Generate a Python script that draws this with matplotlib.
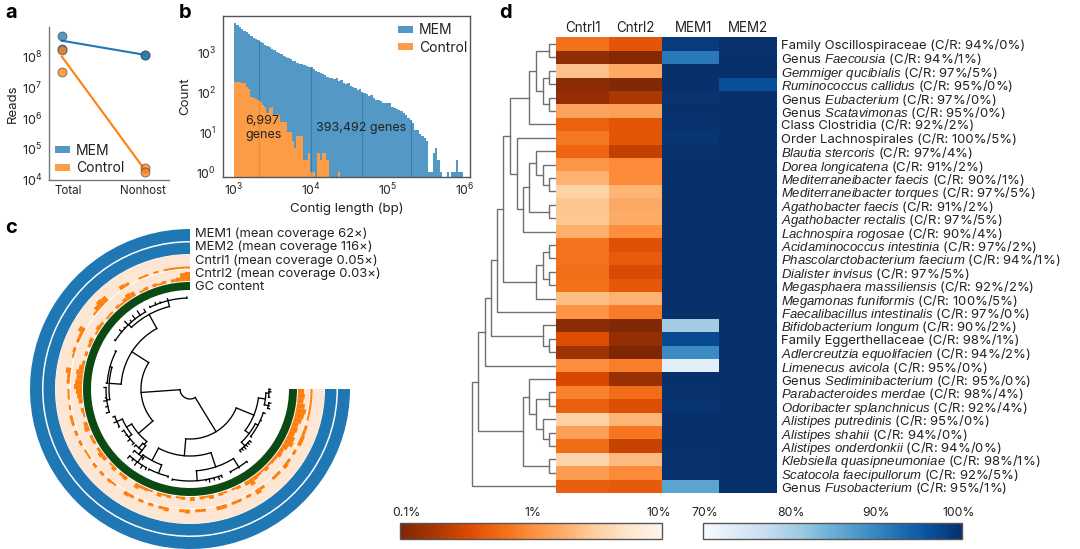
import numpy as np
import matplotlib
matplotlib.use("Agg")
import matplotlib.pyplot as plt
from matplotlib.colors import LogNorm, Normalize
from matplotlib.cm import ScalarMappable
from matplotlib.patches import Patch
from matplotlib.transforms import ScaledTranslation

plt.rcParams['font.family'] = ['Inter', 'DejaVu Sans']
plt.rcParams['mathtext.fontset'] = 'custom'
plt.rcParams['mathtext.rm'] = 'Inter'
plt.rcParams['mathtext.it'] = 'Liberation Sans:italic'
plt.rcParams['mathtext.bf'] = 'Inter:bold'
plt.rcParams['text.color'] = '#222222'

W, H = 1080, 549
BLUE, ORANGE = '#1f77b4', '#ff7f0e'
SOFT_BLUE, SOFT_ORANGE = '#5498c6', '#fd9c46'
TXT = '#222222'

# ---------- panel a ----------
a_groups = ['Total', 'Nonhost']
a_mem = [[5.0e8, 1.8e8], [1.2e8, 1.15e8]]
a_ctrl = [[1.7e8, 3.3e7], [2.3e4, 1.75e4]]

# ---------- panel b ----------
b_bins_per_decade = 33.3
b_mem = [5200, 4700, 4200, 3800, 3400, 3100, 2800, 2500, 2300, 2100, 1950,
         1800, 1650, 1500, 1400, 1300, 1180, 1100, 1020, 950, 870,
         800, 760, 700, 660, 610, 590, 540, 510, 490, 470,
         440, 430, 420, 370, 340, 320, 300, 280, 260, 240,
         225, 230, 215, 225, 190, 195, 165, 160, 170, 140,
         130, 125, 110, 118, 100, 95, 90, 78, 85, 70,
         64, 62, 60, 54, 54, 52, 52, 42, 40, 37,
         36, 34, 30, 26, 22, 20, 17, 11, 11, 9,
         8, 7, 6, 1, 1, 3, 4, 2, 1, 0, 0, 1, 0, 1, 1, 2, 1, 1]
b_ctrl = [182, 178, 175, 165, 170, 135, 120, 75, 70, 66, 62,
          55, 48, 42, 30, 40, 43, 26, 28, 26, 18, 18, 18, 10, 10, 6, 4, 8, 8, 8,
          2, 2, 3, 1, 1, 0, 3, 2, 3, 3, 2, 0, 0, 0, 0, 1]
b_seams = [2.1e3, 1.0e4, 4.6e4, 2.0e5]

# ---------- panel c ----------
c_rings = ['MEM1 (mean coverage 62×)', 'MEM2 (mean coverage 116×)',
           'Cntrl1 (mean coverage 0.05×)', 'Cntrl2 (mean coverage 0.03×)',
           'GC content']
c_cntrl1 = [2,2,2,2,2,2,0,3,3,4,4,0,3,0,3,4,0,3,3,0,0,3,5,0,3,0,3,3,0,4,4,0,0,3,3,0,
            4,3,0,0,4,3,0,3,0,3,0,3,4,0,0,2,3,0,3,0,3,0,2,2,0,3,0,3,0,3,3,0,2,0,2,2,
            0,3,3,5,0,0,2,3,0,3,3,6,0,0,0,2,5,7,6,0,0,0,4,3,0,0,2,2,0,2,0,2,2,2,2,2]
c_cntrl2 = [6,7,6,8,10,9,8,6,7,6,8,9,6,4,5,3,3,2,4,2,3,4,7,4,0,3,2,0,2,3,0,4,2,3,0,4,
            0,3,2,0,3,2,4,0,2,3,3,5,0,0,4,3,0,4,2,0,4,5,3,0,3,3,0,5,4,0,2,3,0,4,5,6,
            8,7,6,7,5,3,0,3,0,3,4,0,2,4,3,0,2,2,0,3,2,4,6,5,0,2,3,0,3,2,3,0,3,4,8,9]

# node = [radius, children...], leaf = (angle in degrees, radius)
c_tree = [10,
  [49,
    [69,
      [85,
        [89, (120, 92), (124, 94), (128, 93), (131, 91), (134, 94), (137, 90), (140, 92), (147, 90)],
        [91, (92, 92), (104, 93), (109, 92), (112, 93), (116, 92)]],
      [81,
        [83, (153, 84), (176, 84)],
        [84, (179, 86), (186, 85), (188, 87), (192, 86), (196, 87)]]],
    [68,
      [74,
        [80, (200, 82), (204, 83), (208, 81)],
        [78, (212, 80), (216, 79), (220, 81), (224, 80)]],
      [72,
        [78, (226, 80), (232, 82)],
        [83, (228, 85), (236, 85)]]]],
  [50,
    [67,
      [81,
        [90, (228, 93), (231, 92), (234, 94), (238, 93), (241, 92)],
        [90, (243, 91), (256, 91)]],
      [82,
        [92, (259, 93), (280, 93), (282, 95), (285, 94), (288, 95), (290, 94)],
        [92, (296, 93), (302, 93), (308, 93)]]],
    [69,
      [74,
        [79, (309, 81), (311, 81), (313, 82), (315, 81), (317, 81), (319, 81)],
        [77, (322, 78), (336, 78), (342, 79)]],
      [76,
        [80, (346, 82), (348, 81), (350, 82)],
        [79, (354, 80), (358, 81), (360, 80)]]]]]

# ---------- panel d ----------
d_columns_ctrl = ['Cntrl1', 'Cntrl2']
d_columns_mem = ['MEM1', 'MEM2']
d_names = ['Family Oscillospiraceae', 'Genus *Faecousia', '*Gemmiger qucibialis',
           '*Ruminococcus callidus', 'Genus *Eubacterium', 'Genus *Scatavimonas',
           'Class Clostridia', 'Order Lachnospirales', '*Blautia stercoris',
           '*Dorea longicatena', '*Mediterraneibacter faecis', '*Mediterraneibacter torques',
           '*Agathobacter faecis', '*Agathobacter rectalis', '*Lachnospira rogosae',
           '*Acidaminococcus intestinia', '*Phascolarctobacterium faecium', '*Dialister invisus',
           '*Megasphaera massiliensis', '*Megamonas funiformis', '*Faecalibacillus intestinalis',
           '*Bifidobacterium longum', 'Family Eggerthellaceae', '*Adlercreutzia equolifacien',
           '*Limenecus avicola', 'Genus *Sediminibacterium', '*Parabacteroides merdae',
           '*Odoribacter splanchnicus', '*Alistipes putredinis', '*Alistipes shahii',
           '*Alistipes onderdonkii', '*Klebsiella quasipneumoniae', '*Scatocola faecipullorum',
           'Genus *Fusobacterium']
d_cr = ['94%/0%', '94%/1%', '97%/5%', '95%/0%', '97%/0%', '95%/0%', '92%/2%', '100%/5%',
        '97%/4%', '91%/2%', '90%/1%', '97%/5%', '91%/2%', '97%/5%', '90%/4%', '97%/2%',
        '94%/1%', '97%/5%', '92%/2%', '100%/5%', '97%/0%', '90%/2%', '98%/1%', '94%/2%',
        '95%/0%', '95%/0%', '98%/4%', '92%/4%', '95%/0%', '94%/0%', '94%/0%', '98%/1%',
        '92%/5%', '95%/1%']
d_cntrl1 = [.63, .13, 2.5, .12, .14, 1.45, .5, .7, .52, 1.15, 1.9, 3.4, 2.6, 2.7, 1.8, .65, .65,
            .6, .62, 2.3, 1.1, .12, .35, .16, 1.0, .32, .85, .48, 3.3, 1.4, .58, 3.6, 1.3, .47]
d_cntrl2 = [.4, .11, 1.6, .105, .19, 1.4, .4, .4, .25, .95, .97, 2.0, 1.65, 1.7, 1.0, .37, .45,
            .33, .42, 1.9, .75, .105, .14, .1, .78, .15, .6, .35, 2.0, .68, .26, 2.2, .95, .43]
d_mem1 = [98.5, 91.6, 100, 100, 99.5, 100, 99.6, 99.4, 99.7, 100, 100, 100, 100, 100, 100, 100, 100,
          100, 100, 100, 100, 80.8, 97, 89.5, 73, 100, 99.8, 99.5, 100, 100, 100, 99.8, 99.7, 86.5]
d_mem2 = [99.7, 100, 100, 96.3, 100, 100, 100, 100, 100, 100, 100, 100, 100, 100, 100, 100, 100,
          100, 100, 100, 100, 100, 100, 100, 100, 100, 100, 100, 100, 100, 100, 100, 100, 100]
d_tree = [84.3,
  [77.7,
    [71,
      [65.3,
        [58.7,
          [52.7,
            [46,
              [26.7, [20, [6.7, 0, 1], [13.3, [6.7, 2, 3], [6.7, 4, 5]]], 6],
              [39.3, 7, [32.7, [26.7, [20, 8, [13.3, 9, [6.7, 10, 11]]], [6.7, 12, 13]], 14]]],
            [20, [13.3, [6.7, 15, 16], [6.7, 17, 18]], 19]],
          20],
        [13.3, 21, [6.7, 22, 23]]],
      24],
    [32.7,
      [26.7, 25, [20, [6.7, 26, 27], [13.3, 28, [6.7, 29, 30]]]],
      [6.7, 31, 32]]],
  33]
cbar_orange_ticks = [0.1, 1, 10]
cbar_orange_labels = ['0.1%', '1%', '10%']
cbar_blue_ticks = [70, 80, 90, 100]
cbar_blue_labels = ['70%', '80%', '90%', '100%']

fig = plt.figure(figsize=(W / 100, H / 100), dpi=100)


def px_ax(x0, y0, x1, y1, **kw):
    return fig.add_axes([x0 / W, 1 - y1 / H, (x1 - x0) / W, (y1 - y0) / H], **kw)


def px_text(x, y, s, **kw):
    return fig.text(x / W, 1 - y / H, s, **kw)


for s, x, y in [('a', 5.5, 18), ('b', 178.5, 18), ('c', 5.5, 233), ('d', 499.5, 18)]:
    px_text(x, y, s, fontsize=14.5, fontweight='bold', color='black', va='baseline')

legend_kw = dict(frameon=False, fontsize=10, handlelength=1.1, handleheight=0.4, handletextpad=0.42,
                 labelspacing=0.28, borderpad=0.0, borderaxespad=0.0)
legend_handles = [Patch(facecolor=SOFT_BLUE, linewidth=0, label='MEM'),
                  Patch(facecolor=SOFT_ORANGE, linewidth=0, label='Control')]

# ---------- a ----------
ax = px_ax(49, 27, 169, 180)
ax.set_yscale('log')
ax.set_xlim(-0.157, 1.29)
ax.set_ylim(10 ** 3.98, 10 ** 8.98)
for pair, col in ((a_mem, BLUE), (a_ctrl, ORANGE)):
    ax.plot([0, 1], [np.mean(pair[0]), np.mean(pair[1])], color=col, lw=1.5, zorder=2)
    for i in range(2):
        ax.scatter([i] * len(pair[i]), pair[i], s=42, color=col, alpha=0.75,
                   edgecolors='#444444', linewidths=0.6, zorder=3, clip_on=False)
ax.set_xticks([0, 1], a_groups)
ax.set_yticks([1e4, 1e5, 1e6, 1e7, 1e8])
ax.minorticks_off()
ax.tick_params(axis='y', length=0, pad=5, labelsize=9, colors=TXT)
ax.tick_params(axis='x', length=0, pad=3.5, labelsize=8.3, colors=TXT)
lab0, lab1 = ax.get_xticklabels()
lab0.set_transform(lab0.get_transform() + ScaledTranslation(6 / 100, 0, fig.dpi_scale_trans))
lab1.set_transform(lab1.get_transform() + ScaledTranslation(-2 / 100, 0, fig.dpi_scale_trans))
ax.set_ylabel('Reads', fontsize=9.5, labelpad=2, color=TXT)
for sp in ('top', 'right'):
    ax.spines[sp].set_visible(False)
for sp in ('left', 'bottom'):
    ax.spines[sp].set_color('#777777')
    ax.spines[sp].set_linewidth(1)
ax.legend(handles=legend_handles, loc='lower left',
          bbox_to_anchor=(55 / W, 1 - 175.5 / H), bbox_transform=fig.transFigure, **legend_kw)

# ---------- b ----------
ax = px_ax(223, 16, 470, 177)
ax.set_xscale('log')
ax.set_yscale('log')
dec = 1 / b_bins_per_decade
for vals, col, seam in ((b_mem, SOFT_BLUE, '#2f80bb'), (b_ctrl, SOFT_ORANGE, '#f39035')):
    vals = np.asarray(vals, float)
    edges = 10 ** (3 + np.arange(len(vals) + 1) * dec)
    ax.stairs(np.maximum(vals, 0.5), edges, fill=True, baseline=0.5, color=col, linewidth=0)
    idx = np.searchsorted(edges, b_seams) - 1
    for s, i in zip(b_seams, idx):
        if i < len(vals) and vals[i] > 0:
            ax.vlines(s, 0.5, vals[i], color=seam, lw=0.8)
ax.set_xlim(10 ** 2.857, 10 ** 6.065)
ax.set_ylim(10 ** -0.125, 10 ** 3.9)
ax.set_xticks([1e3, 1e4, 1e5, 1e6])
ax.set_yticks([1, 10, 100, 1000])
ax.minorticks_off()
ax.tick_params(axis='both', length=0, labelsize=8.8, colors=TXT)
ax.tick_params(axis='x', pad=3.5)
ax.tick_params(axis='y', pad=5)
ax.set_xlabel('Contig length (bp)', fontsize=9.6, labelpad=3, color=TXT)
ax.set_ylabel('Count', fontsize=9.6, labelpad=4, color=TXT)
for sp in ax.spines.values():
    sp.set_color('#555555')
    sp.set_linewidth(1)
ax.legend(handles=legend_handles, loc='upper left',
          bbox_to_anchor=(398 / W, 1 - 23 / H), bbox_transform=fig.transFigure, **legend_kw)
ax.text(0.09, 0.305, '6,997\ngenes', transform=ax.transAxes, fontsize=9, linespacing=1.15, va='center', color=TXT)
ax.text(0.377, 0.305, '393,492 genes', transform=ax.transAxes, fontsize=9, va='center', color=TXT)

# ---------- c ----------
cx, cy, R = 190, 389, 161
ax = px_ax(cx - R, cy - R, cx + R, cy + R, projection='polar')
ax.set_ylim(0, R)
ax.axis('off')
start, span = 0.0, -270.0
mid = np.deg2rad(start + span / 2)
wid = np.deg2rad(abs(span))
for (r0, r1, col) in [(148, 160, BLUE), (135, 146.5, BLUE), (120.5, 134.5, '#fde6d3'), (108, 119.5, '#fde6d3'),
                      (99, 107, '#0b4a12')]:
    ax.bar(mid, r1 - r0, width=wid, bottom=r0, color=col, linewidth=0)
for vals, r0 in ((c_cntrl1, 120.5), (c_cntrl2, 108)):
    n = len(vals)
    th = np.deg2rad(start + span * (np.arange(n) + 0.5) / n)
    ax.bar(th, vals, width=wid / n, bottom=r0, color=ORANGE, linewidth=0)


def draw_c(node):
    if isinstance(node, tuple):
        return node[0]
    r = node[0]
    angs = []
    for ch in node[1:]:
        a = draw_c(ch)
        rc = ch[1] if isinstance(ch, tuple) else ch[0]
        ax.plot(np.deg2rad([a, a]), [r, rc], color='black', lw=0.95, solid_capstyle='projecting')
        angs.append(a)
    t = np.deg2rad(np.linspace(min(angs), max(angs), 60))
    ax.plot(t, np.full_like(t, r), color='black', lw=0.95, solid_capstyle='projecting')
    return (min(angs) + max(angs)) / 2


draw_c(c_tree)
for s, y in zip(c_rings, [234, 247, 260.5, 274, 286.5]):
    px_text(195, y, s, fontsize=9.35, va='center', color=TXT)

# ---------- d ----------
ax_o = px_ax(556, 37.3, 661.7, 493)
ax_b = px_ax(661.7, 37.3, 777, 493)
n_rows = len(d_names)
orange_norm = LogNorm(0.1, 10)
blue_norm = Normalize(70, 100)
ax_o.pcolormesh(np.arange(3), np.arange(n_rows + 1), np.column_stack([d_cntrl1, d_cntrl2]),
                cmap='Oranges_r', norm=orange_norm)
ax_b.pcolormesh(np.arange(3), np.arange(n_rows + 1), np.column_stack([d_mem1, d_mem2]),
                cmap='Blues', norm=blue_norm)
for a_, labs, ticks in ((ax_o, d_columns_ctrl, [0.52, 1.5]), (ax_b, d_columns_mem, [0.55, 1.5])):
    a_.set_ylim(n_rows, 0)
    a_.set_xticks(ticks, labs, fontsize=9.7, color=TXT)
    a_.xaxis.tick_top()
    a_.tick_params(axis='x', length=0, pad=2)
    a_.set_yticks([])
    for sp in a_.spines.values():
        sp.set_visible(False)


def fmt(name, cr):
    if '*' in name:
        pre, it = name.split('*')
        it = it.replace(' ', r'\ ')
        name = pre + r'$\mathit{' + it + '}$'
    return f'{name} (C/R: {cr})'


ax_b.yaxis.tick_right()
ax_b.set_yticks(np.arange(n_rows) + 0.5, [fmt(n, c) for n, c in zip(d_names, d_cr)], fontsize=9.45, color=TXT)
ax_b.tick_params(axis='y', length=0, pad=3)

ax_t = px_ax(471, 37.3, 556, 493)
ax_t.set_xlim(85, 0)
ax_t.set_ylim(n_rows, 0)
ax_t.axis('off')


def draw_d(node):
    if not isinstance(node, list):
        return node + 0.5, 0.0
    h, l, r = node
    yl, hl = draw_d(l)
    yr, hr = draw_d(r)
    ax_t.plot([hl, h, h, hr], [yl, yl, yr, yr], color='#707070', lw=1.0, solid_joinstyle='miter')
    return (yl + yr) / 2, h


draw_d(d_tree)

# colourbars
for box, cmap, norm, ticks, labs, shifts in (
        ((400, 523, 662, 539), 'Oranges_r', orange_norm, cbar_orange_ticks, cbar_orange_labels, [6, 2, -3]),
        ((703, 523, 962, 539), 'Blues', blue_norm, cbar_blue_ticks, cbar_blue_labels, [2, 2, 0, -3])):
    cax = px_ax(*box)
    cb = fig.colorbar(ScalarMappable(norm=norm, cmap=cmap), cax=cax, orientation='horizontal')
    cb.set_ticks(ticks, labels=labs)
    cb.minorticks_off()
    cax.xaxis.set_ticks_position('top')
    cax.tick_params(axis='x', length=0, pad=3, labelsize=8.8, colors=TXT)
    for lab, dx in zip(cax.get_xticklabels(), shifts):
        lab.set_transform(lab.get_transform() + ScaledTranslation(dx / 100, 0, fig.dpi_scale_trans))
    cb.outline.set_edgecolor('#555555')
    cb.outline.set_linewidth(1)

fig.savefig('out.png', dpi=100)
